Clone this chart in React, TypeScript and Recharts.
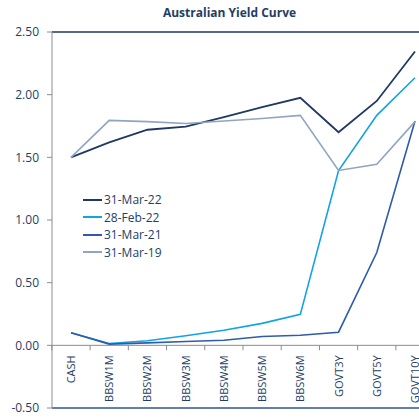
import { Line, LineChart, ReferenceLine, XAxis, YAxis } from 'recharts';

const categories = ['CASH', 'BBSW1M', 'BBSW2M', 'BBSW3M', 'BBSW4M', 'BBSW5M', 'BBSW6M', 'GOVT3Y', 'GOVT5Y', 'GOVT10Y'];

const mar22 = [1.5, 1.62, 1.72, 1.745, 1.82, 1.9, 1.975, 1.7, 1.95, 2.345];
const feb22 = [0.1, 0.015, 0.037, 0.077, 0.12, 0.175, 0.247, 1.395, 1.835, 2.135];
const mar21 = [0.1, 0.01, 0.02, 0.03, 0.04, 0.07, 0.08, 0.105, 0.74, 1.79];
const mar19 = [1.5, 1.795, 1.785, 1.77, 1.79, 1.81, 1.835, 1.395, 1.445, 1.785];

const yTicks = [-0.5, 0, 0.5, 1, 1.5, 2, 2.5];

const series = [
  { key: 'mar22', name: '31-Mar-22', color: '#1f3864', width: 1.8 },
  { key: 'feb22', name: '28-Feb-22', color: '#12a3e3', width: 1.6 },
  { key: 'mar21', name: '31-Mar-21', color: '#2e5cab', width: 1.6 },
  { key: 'mar19', name: '31-Mar-19', color: '#8fa5c2', width: 1.6 },
];

const data = categories.map((cat, i) => ({
  cat,
  mar22: mar22[i],
  feb22: feb22[i],
  mar21: mar21[i],
  mar19: mar19[i],
}));

// chart geometry (plot runs past the right edge, like the reference crop)
const CHART_W = 434;
const CHART_H = 418;
const MARGIN = { top: 32, right: 0, left: 0, bottom: 9 };
const Y_AXIS_W = 52;
const X_PAD = 19;
const PLOT_H = CHART_H - MARGIN.top - MARGIN.bottom - 1;
const Y_MIN = -0.5;
const Y_MAX = 2.5;
const ZERO_Y = MARGIN.top + (PLOT_H * (Y_MAX - 0)) / (Y_MAX - Y_MIN);
const STEP = (CHART_W - Y_AXIS_W - MARGIN.right - 2 * X_PAD) / (categories.length - 1);

const FONT = '"Open Sans", "DejaVu Sans", sans-serif';
const TEXT = '#243e63';

function CategoryTick(props: any) {
  const { x, payload } = props;
  return (
    <g>
      <line x1={x - STEP / 2} x2={x - STEP / 2} y1={ZERO_Y} y2={ZERO_Y + 5} stroke="#8c8c8c" />
      <text
        x={x}
        y={ZERO_Y + 10}
        transform={`rotate(-90, ${x}, ${ZERO_Y + 10})`}
        textAnchor="end"
        dy="0.36em"
        fontSize={11}
        fontFamily={FONT}
        fill={TEXT}
      >
        {payload.value}
      </text>
    </g>
  );
}

export default function App() {
  return (
    <div
      style={{
        position: 'fixed',
        left: 0,
        top: 0,
        width: 419,
        height: 418,
        overflow: 'hidden',
        background: '#fff',
      }}
    >
      <div
        style={{
          position: 'absolute',
          left: 0,
          width: 459,
          top: 4,
          textAlign: 'center',
          fontFamily: FONT,
          fontWeight: 700,
          fontSize: 12,
          color: TEXT,
        }}
      >
        Australian Yield Curve
      </div>
      <LineChart width={CHART_W} height={CHART_H} data={data} margin={MARGIN}>
        <XAxis
          dataKey="cat"
          padding={{ left: X_PAD, right: X_PAD }}
          axisLine={false}
          tickLine={false}
          height={1}
          interval={0}
          tick={<CategoryTick />}
        />
        <YAxis
          width={Y_AXIS_W}
          domain={[Y_MIN, Y_MAX]}
          ticks={yTicks}
          tickFormatter={(v: number) => v.toFixed(2)}
          axisLine={{ stroke: '#8c8c8c' }}
          tickLine={{ stroke: '#8c8c8c' }}
          tickSize={5}
          tickMargin={8}
          tick={{ fontSize: 12, fontFamily: FONT, fill: TEXT }}
          interval={0}
        />
        <ReferenceLine y={0} stroke="#8c8c8c" />
        <ReferenceLine y={Y_MAX} stroke="#1f3864" strokeWidth={1.5} />
        <ReferenceLine y={Y_MIN} stroke="#2f5597" strokeWidth={1.5} />
        {series.map((s) => (
          <Line
            key={s.key}
            dataKey={s.key}
            name={s.name}
            stroke={s.color}
            strokeWidth={s.width}
            dot={false}
            isAnimationActive={false}
          />
        ))}
      </LineChart>
      <div style={{ position: 'absolute', left: 83, top: 191, fontFamily: FONT, fontSize: 12, color: TEXT }}>
        {series.map((s) => (
          <div key={s.key} style={{ display: 'flex', alignItems: 'center', height: 17.5 }}>
            <svg width={21} height={4}>
              <line x1={0} x2={19} y1={2} y2={2} stroke={s.color} strokeWidth={2} />
            </svg>
            <span>{s.name}</span>
          </div>
        ))}
      </div>
    </div>
  );
}
